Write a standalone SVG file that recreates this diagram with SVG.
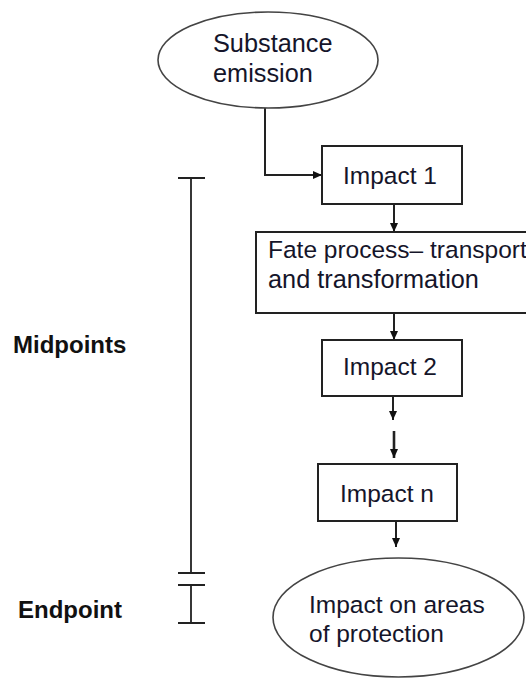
<svg xmlns="http://www.w3.org/2000/svg" width="526" height="679" viewBox="0 0 526 679">
  <defs>
    <marker id="arrow" markerUnits="userSpaceOnUse" markerWidth="10" markerHeight="10" refX="9" refY="4" orient="auto">
      <path d="M0,0 L9,4 L0,8 z" fill="#111"/>
    </marker>
    <style>
      .box { fill: #fff; stroke: #222; stroke-width: 2; }
      .oval { fill: #fff; stroke: #444; stroke-width: 1.6; }
      .lbl { font-family: "Liberation Sans", Arial, sans-serif; font-size: 24.5px; fill: #15152a; }
      .big { font-size: 25.3px; }
      .side { font-family: "Liberation Sans", Arial, sans-serif; font-size: 24px; font-weight: bold; fill: #111; }
      .wire { fill: none; stroke: #222; stroke-width: 2; }
      .bar { fill: none; stroke: #222; stroke-width: 1.8; }
    </style>
  </defs>

  <rect width="526" height="679" fill="#fff"/>

  <!-- scale bracket on the left -->
  <g id="scale">
    <path class="bar" d="M178,178 H205 M191,178 V573 M178,573 H205 M178,585 H205 M191,585 V623 M178,623 H205"/>
    <text class="side" x="13" y="353">Midpoints</text>
    <text class="side" x="18" y="618">Endpoint</text>
  </g>

  <!-- connectors -->
  <g id="connectors">
    <path class="wire" d="M265,108 V175 H322" marker-end="url(#arrow)"/>
    <path class="wire" d="M394,204 V232" marker-end="url(#arrow)"/>
    <path class="wire" d="M394,313 V340" marker-end="url(#arrow)"/>
    <path class="wire" d="M393,396 V420" marker-end="url(#arrow)"/>
    <path class="wire" d="M394,431 V458" marker-end="url(#arrow)" style="stroke-width:2.6"/>
    <path class="wire" d="M396,521 V547" marker-end="url(#arrow)"/>
  </g>

  <g id="emission">
    <ellipse class="oval" cx="268" cy="60" rx="110" ry="48"/>
    <text class="lbl big" x="213" y="52">Substance</text>
    <text class="lbl big" x="213" y="82">emission</text>
  </g>

  <g id="impact1">
    <rect class="box" x="322" y="146" width="140" height="58"/>
    <text class="lbl" x="343" y="184">Impact 1</text>
  </g>

  <g id="fate">
    <rect class="box" x="256" y="232" width="290" height="81"/>
    <text class="lbl" x="268" y="258">Fate process– transport</text>
    <text class="lbl big" x="268" y="288">and transformation</text>
  </g>

  <g id="impact2">
    <rect class="box" x="322" y="340" width="140" height="56"/>
    <text class="lbl" x="343" y="375">Impact 2</text>
  </g>

  <g id="impactn">
    <rect class="box" x="318" y="464" width="139" height="57"/>
    <text class="lbl" x="340" y="502">Impact n</text>
  </g>

  <g id="protection">
    <ellipse class="oval" cx="398.5" cy="617.5" rx="125.5" ry="59.5"/>
    <text class="lbl" x="309" y="613">Impact on areas</text>
    <text class="lbl" x="309" y="642">of protection</text>
  </g>
</svg>
